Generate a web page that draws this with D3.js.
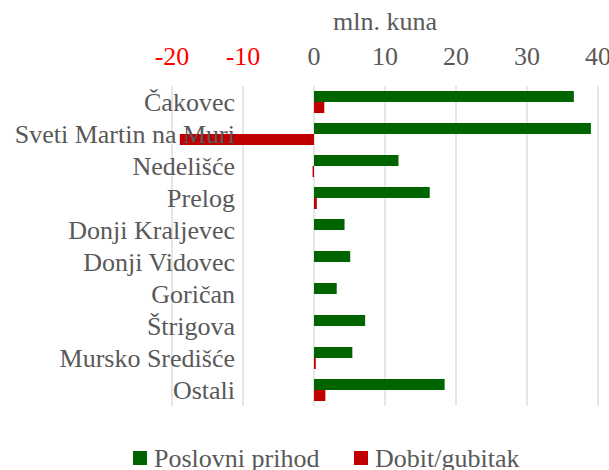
<!DOCTYPE html>
<html>
<head>
<meta charset="utf-8">
<script src="https://cdn.jsdelivr.net/npm/d3@7"></script>
<style>
  body { margin: 0; background: #fff; }
</style>
</head>
<body>
<div id="chart"></div>
<script>
var categories = ["Čakovec", "Sveti Martin na Muri", "Nedelišće", "Prelog", "Donji Kraljevec",
    "Donji Vidovec", "Goričan", "Štrigova", "Mursko Središće", "Ostali"];
var prihod = [36.6, 39.0, 11.9, 16.3, 4.3, 5.1, 3.2, 7.2, 5.4, 18.4];
var dobit = [1.45, -18.9, -0.2, 0.4, 0, 0, 0, 0, 0.25, 1.6];
var tickValues = [-20, -10, 0, 10, 20, 30, 40];
var seriesNames = ["Poslovni prihod", "Dobit/gubitak"];
var colors = ["#006400", "#c00000"];

var svgWidth = 609;
var svgHeight = 470;

var margin = { top: 86, right: 11, bottom: 64, left: 172 };
var width = svgWidth - margin.left - margin.right;
var height = svgHeight - margin.top - margin.bottom;

var svg = d3.select("#chart")
    .append("svg")
    .attr("width", svgWidth)
    .attr("height", svgHeight)
    .attr("font-family", "'Liberation Serif', 'Times New Roman', Times, serif")
    .attr("font-size", "26px")
    .attr("fill", "#595959");

var chartGroup = svg.append("g")
    .attr("transform", `translate(${margin.left},${margin.top})`);

var x = d3.scaleLinear()
    .domain([-20, 40])
    .range([0, width]);

var y = d3.scaleBand()
    .domain(categories)
    .range([0, height])
    .paddingInner(0.3125)
    .paddingOuter(0.15625);

var sub = d3.scaleBand()
    .domain([0, 1])
    .range([0, y.bandwidth()]);

// gridlines
chartGroup.append("g")
    .selectAll("line")
    .data(tickValues)
    .enter()
    .append("line")
    .attr("x1", d => x(d))
    .attr("x2", d => x(d))
    .attr("y1", 0)
    .attr("y2", height)
    .attr("stroke", "#d9d9d9")
    .attr("stroke-width", 1.3);

// tick labels on top
chartGroup.append("g")
    .selectAll("text")
    .data(tickValues)
    .enter()
    .append("text")
    .attr("x", d => x(d))
    .attr("y", -21)
    .attr("text-anchor", "middle")
    .attr("fill", d => d < 0 ? "#ff0000" : "#595959")
    .text(d => d);

svg.append("text")
    .attr("x", x(10) + margin.left)
    .attr("y", 30)
    .attr("text-anchor", "middle")
    .text("mln. kuna");

// bars
var groups = chartGroup.append("g")
    .selectAll("g")
    .data(categories)
    .enter()
    .append("g")
    .attr("transform", d => `translate(0,${y(d)})`);

groups.append("rect")
    .attr("x", x(0))
    .attr("y", sub(0))
    .attr("width", (d, i) => x(prihod[i]) - x(0))
    .attr("height", sub.bandwidth())
    .attr("fill", colors[0]);

groups.append("rect")
    .attr("x", (d, i) => x(Math.min(0, dobit[i])))
    .attr("y", sub(1))
    .attr("width", (d, i) => Math.abs(x(dobit[i]) - x(0)))
    .attr("height", sub.bandwidth())
    .attr("fill", colors[1]);

// category labels
chartGroup.append("g")
    .selectAll("text")
    .data(categories)
    .enter()
    .append("text")
    .attr("x", 63)
    .attr("y", d => y(d) + y.bandwidth() / 2)
    .attr("dy", "0.35em")
    .attr("text-anchor", "end")
    .text(d => d);

// legend
var legend = svg.append("g")
    .attr("transform", "translate(0,458)");

var legendX = [133, 354];
seriesNames.forEach(function (name, i) {
    legend.append("rect")
        .attr("x", legendX[i])
        .attr("y", -7)
        .attr("width", 14)
        .attr("height", 14)
        .attr("fill", colors[i]);
    legend.append("text")
        .attr("x", legendX[i] + 21)
        .attr("y", 0)
        .attr("dy", "0.33em")
        .text(name);
});
</script>
</body>
</html>
